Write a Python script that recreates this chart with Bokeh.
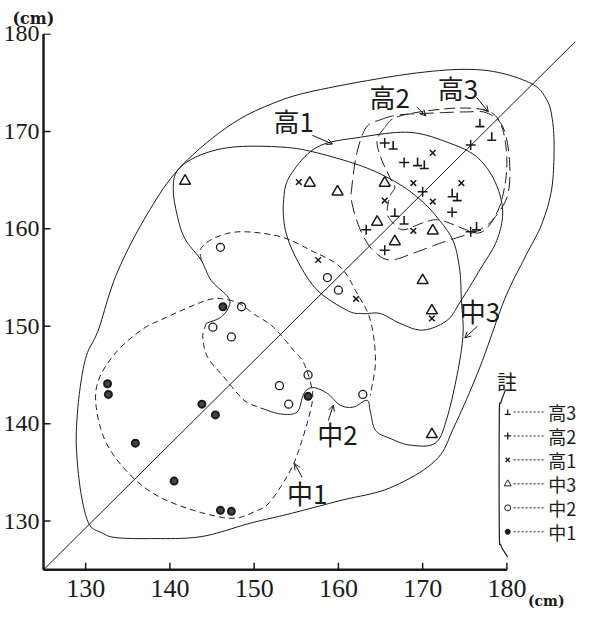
import numpy as np
from bokeh.plotting import figure
from bokeh.models import Range1d, Arrow, OpenHead, Title
from bokeh.core.properties import value
from bokeh.embed import file_html
from bokeh.resources import INLINE

# ---------------- data (cm) ----------------
naka1_x = [146.3, 156.4, 143.8, 145.4, 135.9, 132.6, 132.7, 140.5, 146.0, 147.3]
naka1_y = [152.0, 142.8, 142.0, 140.9, 138.0, 144.1, 143.0, 134.1, 131.1, 131.0]
naka2_x = [146.0, 158.7, 160.0, 148.5, 145.1, 147.3, 153.0, 156.4, 154.1, 162.9]
naka2_y = [158.1, 155.0, 153.7, 152.0, 149.9, 148.9, 143.9, 145.0, 142.0, 143.0]
naka3_x = [141.8, 156.6, 159.9, 165.5, 164.6, 166.7, 171.2, 170.0, 171.1, 171.1]
naka3_y = [164.9, 164.7, 163.8, 164.7, 160.7, 158.7, 159.8, 154.7, 151.6, 138.9]
ko1_x = [155.3, 171.2, 168.9, 165.5, 171.2, 174.6, 168.9, 157.6, 162.1, 171.1]
ko1_y = [164.8, 167.8, 164.7, 162.9, 162.8, 164.7, 159.8, 156.8, 152.8, 150.8]
ko2_x = [165.5, 167.8, 170.0, 173.5, 163.3, 165.5, 175.7, 175.7]
ko2_y = [168.8, 166.8, 163.8, 161.7, 159.9, 157.8, 159.7, 168.6]
ko3_x = [166.5, 169.4, 170.2, 173.5, 174.1, 166.7, 167.8, 176.4, 176.8, 178.2]
ko3_y = [168.6, 166.9, 166.6, 163.7, 163.3, 161.7, 160.9, 160.3, 170.9, 169.5]

ticks = [130, 140, 150, 160, 170, 180]
axis_lo, axis_hi = 125, 180
ref_x = [125.0, 188.1]
ref_y = [125.0, 179.2]

# hand-drawn group outlines (cm)
outer_x = [130.4, 129.5, 129.0, 128.9, 129.3, 130.1, 131.5, 133.6, 136.9, 141.0, 146.9, 152.3,
           157.9, 169.3, 177.1, 182.7, 184.7, 185.4, 185.6, 185.3, 184.1, 182.1, 179.7, 176.8,
           173.8, 171.5, 166.1, 160.2, 154.0, 149.6, 143.7, 137.8, 133.6, 131.9]
outer_y = [129.7, 132.6, 136.2, 139.3, 143.4, 147.0, 149.6, 155.2, 160.9, 166.1, 170.5, 172.9,
           174.3, 176.0, 176.3, 175.0, 173.3, 171.2, 168.1, 164.0, 160.4, 157.0, 152.7, 145.8,
           139.8, 136.2, 133.4, 132.1, 130.7, 129.8, 128.4, 128.2, 128.3, 128.8]
naka3_cx = [144.3, 146.0, 147.0, 146.9, 144.9, 143.7, 141.9, 141.0, 140.4, 141.0, 143.7, 147.6,
            153.1, 157.0, 162.9, 167.0, 169.7, 171.7, 173.6, 174.4, 174.6, 174.8, 174.2, 172.9,
            171.5, 168.5, 166.1, 164.4, 163.8, 163.4, 161.8, 160.2, 158.7, 157.0, 155.9, 155.1,
            153.1, 150.8]
naka3_cy = [150.3, 150.9, 152.0, 153.0, 154.7, 156.8, 158.8, 160.9, 164.0, 166.1, 167.6, 168.4,
            168.4, 167.9, 166.4, 164.7, 163.0, 161.2, 158.8, 155.8, 152.7, 149.3, 145.5, 140.6,
            138.0, 137.8, 138.5, 139.3, 141.2, 142.4, 141.7, 141.9, 143.1, 143.7, 143.1, 141.2,
            141.0, 141.6]
naka1_cx = [146.9, 148.5, 149.9, 152.3, 154.7, 155.9, 156.9, 156.7, 155.5, 154.3, 152.0, 150.4,
            146.9, 140.5, 136.2, 132.7, 131.3, 131.5, 133.6, 136.6, 139.3, 144.5]
naka1_cy = [152.7, 152.2, 151.3, 149.9, 147.5, 146.2, 143.4, 141.4, 137.8, 135.2, 132.1, 131.1,
            130.3, 131.8, 134.0, 137.6, 141.4, 144.4, 147.3, 149.6, 150.8, 152.7]
naka2a_x = [144.3, 143.9, 144.5, 146.4, 148.8, 150.8]
naka2a_y = [150.3, 148.9, 146.8, 144.8, 142.4, 141.6]
naka2b_x = [143.7, 143.7, 145.4, 148.4, 153.1, 156.7, 160.2, 162.2, 163.8, 164.4, 163.8]
naka2b_y = [156.8, 158.0, 159.1, 159.7, 159.2, 157.8, 156.1, 153.4, 150.6, 146.5, 142.9]
ko1_cx = [154.3, 157.5, 162.6, 168.5, 173.2, 176.4, 178.5, 179.5, 178.8, 176.8, 174.6, 172.9,
          170.0, 167.3, 165.0, 162.9, 161.1, 157.5, 155.1, 153.7, 153.5]
ko1_cy = [165.5, 168.4, 169.4, 169.9, 168.8, 167.4, 165.0, 161.9, 158.8, 155.8, 152.7, 150.6,
          149.6, 150.3, 151.3, 151.3, 151.6, 153.7, 156.8, 159.9, 163.0]
ko2_cx = [165.0, 167.3, 171.7, 175.2, 177.6, 179.5, 180.3, 180.1, 178.5, 176.8, 175.2, 172.0,
          168.9, 166.1, 164.1, 162.6, 161.6, 161.6, 162.2, 163.3]
ko2_cy = [171.2, 171.7, 171.9, 172.0, 171.9, 170.5, 167.1, 163.5, 161.1, 159.9, 159.4, 158.5,
          157.5, 156.8, 157.8, 159.9, 162.7, 164.3, 167.8, 170.4]
ko3_cx = [165.5, 164.6, 165.0, 166.1, 166.7, 166.1, 165.8, 166.5, 167.7, 170.0, 172.0, 175.2,
          176.8, 178.2, 179.4, 180.0, 179.5, 178.0, 174.4, 169.7, 166.7]
ko3_cy = [170.4, 169.1, 167.4, 165.3, 164.3, 163.3, 161.6, 160.6, 159.9, 160.6, 160.9, 159.9,
          159.6, 160.7, 163.0, 166.6, 170.2, 172.0, 172.4, 172.0, 171.4]

group_names = ["高1", "高2", "高3", "中3", "中2", "中1"]
legend_names = ["高3", "高2", "高1", "中3", "中2", "中1"]


def smooth(xs, ys, closed=False, n=10):
    p = np.column_stack([xs, ys]).astype(float)
    if closed:
        ext = np.vstack([p[-1], p, p[0], p[1]])
        segs = len(p)
    else:
        ext = np.vstack([2 * p[0] - p[1], p, 2 * p[-1] - p[-2]])
        segs = len(p) - 1
    out = []
    t = np.linspace(0, 1, n, endpoint=False)[:, None]
    for i in range(segs):
        p0, p1, p2, p3 = ext[i], ext[i + 1], ext[i + 2], ext[i + 3]
        c = 0.5 * ((2 * p1) + (-p0 + p2) * t + (2 * p0 - 5 * p1 + 4 * p2 - p3) * t ** 2
                   + (-p0 + 3 * p1 - 3 * p2 + p3) * t ** 3)
        out.append(c)
    out.append((ext[segs + 1])[None, :])
    a = np.vstack(out)
    return a[:, 0], a[:, 1]


INK = "#1a1a1a"
XPX = 8.42   # px per cm, x
YPX = 9.745  # px per cm, y
x0r, x1r = 124.76, 188.5
y0r, y1r = 124.72, 180.05
p = figure(frame_width=round((x1r - x0r) * XPX), frame_height=round((y1r - y0r) * YPX),
           x_range=Range1d(x0r, x1r), y_range=Range1d(y0r, y1r),
           output_backend="svg", toolbar_location=None,
           min_border_left=34, min_border_right=3, min_border_top=33, min_border_bottom=39)
p.outline_line_color = None
p.xgrid.visible = False
p.ygrid.visible = False

p.title.text = "(cm)"
p.title.align = "left"
p.title.offset = -29
p.title.standoff = 11
p.title.text_font = "DejaVu Serif"
p.title.text_font_style = "bold"
p.title.text_font_size = "16px"
p.title.text_color = INK

# unit under the x axis (placed in the lower margin, right of "180")
p.add_layout(Title(text="(cm)", align="right", offset=14, standoff=-17,
                   text_font="DejaVu Serif", text_font_style="bold",
                   text_font_size="14px", text_color=INK), "below")

for ax in (p.xaxis[0], p.yaxis[0]):
    ax.ticker = ticks
    ax.minor_tick_line_color = None
    ax.major_tick_line_color = None
    ax.axis_line_color = None
    ax.major_tick_in = 0
    ax.major_tick_out = 0
    ax.major_label_text_font = "Liberation Sans Narrow"
    ax.major_label_text_color = INK
p.xaxis.major_label_text_font_size = "26px"
p.yaxis.major_label_text_font_size = "24px"
p.xaxis.major_label_standoff = 7
p.yaxis.major_label_standoff = 2

# axis lines and inward ticks, drawn on the data scale
p.segment([axis_lo, axis_lo], [axis_lo, axis_lo], [axis_hi, axis_lo], [axis_lo, axis_hi],
          line_color=INK, line_width=2.5)
tick_len_x = 7 / YPX
tick_len_y = 7 / XPX
p.segment(ticks, [axis_lo] * len(ticks), ticks, [axis_lo + tick_len_x] * len(ticks),
          line_color=INK, line_width=1.5)
p.segment([axis_lo] * len(ticks), ticks, [axis_lo + tick_len_y] * len(ticks), ticks,
          line_color=INK, line_width=1.5)

# reference diagonal
p.line(ref_x, ref_y, line_color=INK, line_width=1)

# outlines
sx, sy = smooth(outer_x, outer_y, closed=True)
p.line(sx, sy, line_color=INK, line_width=1)
sx, sy = smooth(naka3_cx, naka3_cy)
p.line(sx, sy, line_color=INK, line_width=1)
sx, sy = smooth(ko1_cx, ko1_cy, closed=True)
p.line(sx, sy, line_color=INK, line_width=1)
sx, sy = smooth(naka1_cx, naka1_cy, closed=True)
p.line(sx, sy, line_color=INK, line_width=1, line_dash="6 4")
sx, sy = smooth(naka2a_x, naka2a_y)
p.line(sx, sy, line_color=INK, line_width=1, line_dash="6 4")
sx, sy = smooth(naka2b_x, naka2b_y)
p.line(sx, sy, line_color=INK, line_width=1, line_dash="6 4")
sx, sy = smooth(ko2_cx, ko2_cy, closed=True)
p.line(sx, sy, line_color=INK, line_width=1, line_dash="14 6")
sx, sy = smooth(ko3_cx, ko3_cy, closed=True)
p.line(sx, sy, line_color=INK, line_width=1, line_dash="11 5")

# points
p.scatter(naka1_x, naka1_y, marker="circle", size=7, fill_color="#444444",
          line_color=INK, line_width=2)
p.scatter(naka2_x, naka2_y, marker="circle", size=8, fill_color=None,
          line_color=INK, line_width=1.3)
p.scatter(naka3_x, naka3_y, marker="triangle", size=11, fill_color=None,
          line_color=INK, line_width=1.5)
p.scatter(ko1_x, ko1_y, marker="x", size=8, line_color=INK, line_width=1.5)
p.scatter(ko2_x, ko2_y, marker="cross", size=10, line_color=INK, line_width=1.5)
# "⊥" marks: a base bar and an upright stroke
base = [y - 4 / YPX for y in ko3_y]
top = [y + 4 / YPX for y in ko3_y]
p.scatter(ko3_x, base, marker="dash", size=9, line_color=INK, line_width=1.6)
p.segment(ko3_x, base, ko3_x, top, line_color=INK, line_width=1.6)

# group labels
lab_x = [154.7, 166.1, 174.2, 176.8, 159.9, 156.3]
lab_y = [171.1, 173.6, 174.5, 151.6, 139.0, 132.9]
p.text(lab_x, lab_y, text=group_names, text_font=value("Noto Sans CJK JP"),
       text_font_size="26px", text_align="center", text_baseline="middle",
       text_color=INK)
arrows = [((156.9, 169.6), (159.3, 168.7)), ((169.3, 172.5), (170.4, 171.6)),
          ((176.4, 173.5), (177.8, 172.0)), ((176.5, 150.0), (175.0, 148.8)),
          ((158.8, 140.3), (159.4, 141.9)), ((155.7, 134.5), (154.8, 135.9))]
for (xa, ya), (xb, yb) in arrows:
    p.add_layout(Arrow(end=OpenHead(size=6, line_width=1, line_color=INK),
                       x_start=xa, y_start=ya, x_end=xb, y_end=yb,
                       line_width=1, line_color=INK))

# key
p.text([180.0], [144.3], text=["註"], text_font=value("Noto Sans CJK JP"),
       text_font_size="20px", text_align="center", text_baseline="middle",
       text_color=INK)
br_x = [179.8, 179.3, 179.1, 179.1, 179.3, 180.1]
br_y = [143.4, 142.2, 140.8, 129.0, 127.5, 126.3]
sx, sy = smooth(br_x, br_y)
p.line(sx, sy, line_color=INK, line_width=1.2)
row_y = [141.2 - i * 2.46 for i in range(6)]
sym_x = 180.1
p.segment([180.8] * 6, row_y, [184.6] * 6, row_y, line_color=INK, line_width=1,
          line_dash="2 2")
p.scatter([sym_x], [row_y[0] - 2.5 / YPX], marker="dash", size=6, line_color=INK, line_width=1.3)
p.segment([sym_x], [row_y[0] - 2.5 / YPX], [sym_x], [row_y[0] + 2.5 / YPX],
          line_color=INK, line_width=1.3)
p.scatter([sym_x], [row_y[1]], marker="cross", size=7, line_color=INK, line_width=1.3)
p.scatter([sym_x], [row_y[2]], marker="x", size=6, line_color=INK, line_width=1.3)
p.scatter([sym_x], [row_y[3]], marker="triangle", size=7, fill_color=None,
          line_color=INK, line_width=1)
p.scatter([sym_x], [row_y[4]], marker="circle", size=6, fill_color=None,
          line_color=INK, line_width=1)
p.scatter([sym_x], [row_y[5]], marker="circle", size=5, fill_color=INK,
          line_color=INK, line_width=1)
p.text([184.9] * 6, row_y, text=legend_names, text_font=value("Noto Sans CJK JP"),
       text_font_size="18px", text_align="left", text_baseline="middle", text_color=INK)

open("out.html", "w").write(file_html(p, INLINE))
